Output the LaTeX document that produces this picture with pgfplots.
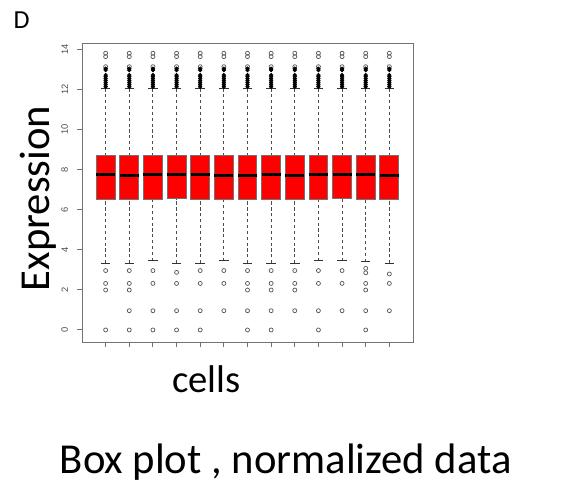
\documentclass[border=0pt]{standalone}
\usepackage{pgfplots}
\pgfplotsset{compat=1.18}
\usepgfplotslibrary{statistics}
\usepackage{fontspec}
\setmainfont{Carlito}
\newfontfamily\arialf{Liberation Sans}
\definecolor{framegray}{gray}{0.45}
\definecolor{boxred}{RGB}{255,0,0}
\pgfplotsset{
  boxplot/draw direction=y,
  boxplot/draw/lower whisker/.code={%
    \draw[black!70, dash pattern=on 2.4pt off 2pt, line width=0.7pt]
      (boxplot box cs:\pgfplotsboxplotvalue{lower whisker},0.5) --
      (boxplot box cs:\pgfplotsboxplotvalue{lower quartile},0.5);
    \draw[black!80, solid, line width=0.8pt]
      (boxplot whisker cs:\pgfplotsboxplotvalue{lower whisker},0) --
      (boxplot whisker cs:\pgfplotsboxplotvalue{lower whisker},1);
  },
  boxplot/draw/upper whisker/.code={%
    \draw[black!70, dash pattern=on 2.4pt off 2pt, line width=0.7pt]
      (boxplot box cs:\pgfplotsboxplotvalue{upper whisker},0.5) --
      (boxplot box cs:\pgfplotsboxplotvalue{upper quartile},0.5);
    \draw[black!80, solid, line width=0.8pt]
      (boxplot whisker cs:\pgfplotsboxplotvalue{upper whisker},0) --
      (boxplot whisker cs:\pgfplotsboxplotvalue{upper whisker},1);
  },
  boxplot/every median/.style={draw=black, line width=2.2pt},
  boxplot/every box/.style={draw=black!55, fill=boxred, line width=0.7pt},
  bx/.style={solid, mark=o, mark size=1.5pt,
    mark options={draw=black!65, line width=0.55pt, fill=none}},
}
\begin{document}
\begin{tikzpicture}
\useasboundingbox (0,0) rectangle (431.25pt,-369pt);
\begin{axis}[
  at={(61.5pt,-256.5pt)}, anchor=south west,
  scale only axis, width=248.25pt, height=224.25pt,
  xmin=0, xmax=14, ymin=-0.6, ymax=14.3,
  clip=false,
  boxplot/box extend=0.8, boxplot/whisker extend=0.4,
  axis line style={framegray, line width=0.7pt},
  xtick={1,...,13}, xticklabels={},
  ytick={0,2,4,6,8,10,12,14},
  tick align=outside, xtick pos=bottom, ytick pos=left,
  major tick length=3.75pt,
  every tick/.style={framegray, line width=0.7pt},
  /pgf/number format/assume math mode=true,
  yticklabel style={xshift=-6.5pt, rotate=90, anchor=south, inner sep=0pt,
    font=\arialf\fontsize{7}{8}\selectfont, text=black!70},
]
\addplot[bx, boxplot prepared={draw position=1, lower whisker=3.32, lower quartile=6.48, median=7.74, upper quartile=8.72, upper whisker=12.04}] coordinates {(0,2.96) (0,2.32) (0,1.99) (0,0) (0,13.62) (0,13.79) (0,13.12)};
\addplot[bx, boxplot prepared={draw position=2, lower whisker=3.32, lower quartile=6.48, median=7.69, upper quartile=8.72, upper whisker=12.04}] coordinates {(0,2.96) (0,2.32) (0,1.99) (0,0.96) (0,0) (0,13.62) (0,13.79) (0,13.12)};
\addplot[bx, boxplot prepared={draw position=3, lower whisker=3.44, lower quartile=6.48, median=7.74, upper quartile=8.72, upper whisker=12.04}] coordinates {(0,2.96) (0,2.32) (0,0.96) (0,0) (0,13.62) (0,13.79) (0,13.12)};
\addplot[bx, boxplot prepared={draw position=4, lower whisker=3.32, lower quartile=6.54, median=7.75, upper quartile=8.72, upper whisker=12.04}] coordinates {(0,2.87) (0,2.32) (0,0.96) (0,0) (0,13.62) (0,13.79) (0,13.12)};
\addplot[bx, boxplot prepared={draw position=5, lower whisker=3.32, lower quartile=6.48, median=7.74, upper quartile=8.72, upper whisker=12.04}] coordinates {(0,2.96) (0,2.32) (0,0.96) (0,0) (0,13.62) (0,13.79) (0,13.12)};
\addplot[bx, boxplot prepared={draw position=6, lower whisker=3.44, lower quartile=6.48, median=7.70, upper quartile=8.72, upper whisker=12.04}] coordinates {(0,2.96) (0,2.32) (0,0.96) (0,13.62) (0,13.79) (0,13.12)};
\addplot[bx, boxplot prepared={draw position=7, lower whisker=3.32, lower quartile=6.48, median=7.69, upper quartile=8.72, upper whisker=12.04}] coordinates {(0,2.96) (0,2.32) (0,1.99) (0,0.96) (0,0) (0,13.62) (0,13.79) (0,13.12)};
\addplot[bx, boxplot prepared={draw position=8, lower whisker=3.32, lower quartile=6.48, median=7.74, upper quartile=8.72, upper whisker=12.04}] coordinates {(0,2.96) (0,2.32) (0,1.99) (0,0.96) (0,0) (0,13.62) (0,13.79) (0,13.12)};
\addplot[bx, boxplot prepared={draw position=9, lower whisker=3.32, lower quartile=6.48, median=7.69, upper quartile=8.72, upper whisker=12.04}] coordinates {(0,2.96) (0,2.32) (0,1.99) (0,0.96) (0,13.62) (0,13.79) (0,13.12)};
\addplot[bx, boxplot prepared={draw position=10, lower whisker=3.44, lower quartile=6.48, median=7.74, upper quartile=8.72, upper whisker=12.04}] coordinates {(0,2.96) (0,2.32) (0,0.96) (0,0) (0,13.62) (0,13.79) (0,13.12)};
\addplot[bx, boxplot prepared={draw position=11, lower whisker=3.44, lower quartile=6.54, median=7.74, upper quartile=8.72, upper whisker=12.04}] coordinates {(0,2.96) (0,2.32) (0,0.96) (0,13.62) (0,13.79) (0,13.12)};
\addplot[bx, boxplot prepared={draw position=12, lower whisker=3.40, lower quartile=6.48, median=7.74, upper quartile=8.72, upper whisker=12.04}] coordinates {(0,3.07) (0,2.85) (0,2.32) (0,1.99) (0,0.96) (0,0) (0,13.62) (0,13.79) (0,13.12)};
\addplot[bx, boxplot prepared={draw position=13, lower whisker=3.32, lower quartile=6.48, median=7.69, upper quartile=8.72, upper whisker=12.04}] coordinates {(0,2.79) (0,2.32) (0,0.96) (0,13.62) (0,13.79) (0,13.12)};
% dense upper outliers (overlapping circles appear solid black)
\addplot[only marks, mark=*, mark size=1.4pt, mark options={black, fill=black}] table {
x y
1 12.12
1 12.22
1 12.32
1 12.42
1 12.52
1 12.62
1 12.70
1 12.95
1 13.02
2 12.12
2 12.22
2 12.32
2 12.42
2 12.52
2 12.62
2 12.70
2 12.95
2 13.02
3 12.12
3 12.22
3 12.32
3 12.42
3 12.52
3 12.62
3 12.70
3 12.95
3 13.02
4 12.12
4 12.22
4 12.32
4 12.42
4 12.52
4 12.62
4 12.70
4 12.95
4 13.02
5 12.12
5 12.22
5 12.32
5 12.42
5 12.52
5 12.62
5 12.70
5 12.95
5 13.02
6 12.12
6 12.22
6 12.32
6 12.42
6 12.52
6 12.62
6 12.70
6 12.95
6 13.02
7 12.12
7 12.22
7 12.32
7 12.42
7 12.52
7 12.62
7 12.70
7 12.95
7 13.02
8 12.12
8 12.22
8 12.32
8 12.42
8 12.52
8 12.62
8 12.70
8 12.95
8 13.02
9 12.12
9 12.22
9 12.32
9 12.42
9 12.52
9 12.62
9 12.70
9 12.95
9 13.02
10 12.12
10 12.22
10 12.32
10 12.42
10 12.52
10 12.62
10 12.70
10 12.95
10 13.02
11 12.12
11 12.22
11 12.32
11 12.42
11 12.52
11 12.62
11 12.70
11 12.95
11 13.02
12 12.12
12 12.22
12 12.32
12 12.42
12 12.52
12 12.62
12 12.70
12 12.95
12 13.02
13 12.12
13 12.22
13 12.32
13 12.42
13 12.52
13 12.62
13 12.70
13 12.95
13 13.02
};
\end{axis}
\node[anchor=base west, inner sep=0pt, font=\fontsize{19.5}{22}\selectfont] at (10pt,-21.2pt) {D};
\node[anchor=base west, inner sep=0pt, rotate=90, font=\fontsize{32}{36}\selectfont] at (37.5pt,-218.5pt) {Expression};
\node[anchor=base west, inner sep=0pt, font=\fontsize{29}{33}\selectfont] at (129pt,-294pt) {cells};
\node[anchor=base west, inner sep=0pt, font=\fontsize{32}{36}\selectfont] at (44.7pt,-354.75pt) {Box plot , normalized data};
\end{tikzpicture}
\end{document}
